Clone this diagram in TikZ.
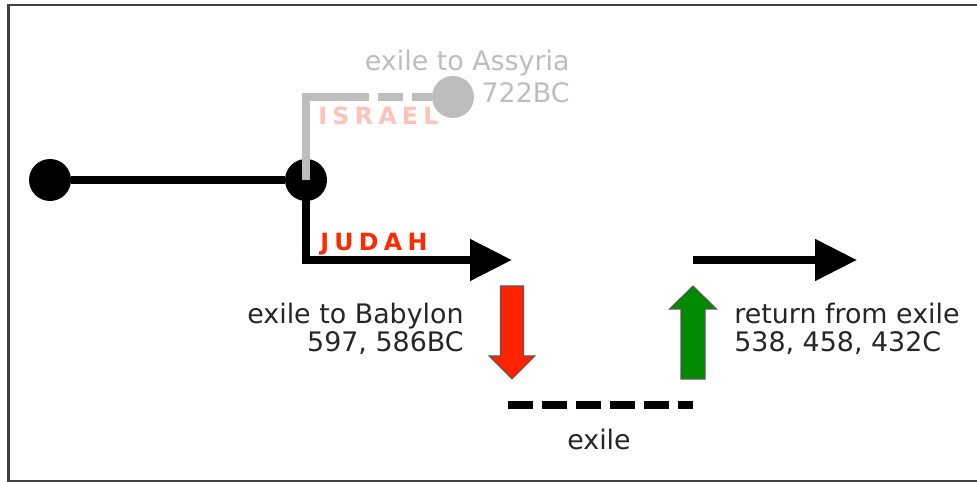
\documentclass[tikz,border=0pt]{standalone}
\usepackage{fontspec}
\setmainfont{DejaVu Sans}
\usetikzlibrary{arrows.meta}
\definecolor{faded}{HTML}{BDBDBD}
\definecolor{israelpink}{HTML}{FFC2B8}
\definecolor{judahred}{HTML}{FF2A00}
\definecolor{downred}{HTML}{FF2200}
\definecolor{upgreen}{HTML}{008A00}
\newcommand{\lsp}{\kern3pt}

\begin{document}
\begin{tikzpicture}[x=0.02cm,y=-0.02cm,
	dot/.style={circle,fill,inner sep=0pt,minimum size=0.84cm},
	track/.style={line width=4.5pt},
	bigtip/.style={-{Triangle[length=23.8pt,width=22.7pt]}},
	label/.style={font=\fontsize{15.3}{16.4}\selectfont,text=black!85,inner sep=0pt},
	kingdom/.style={font=\fontsize{13.5}{15}\selectfont\bfseries,inner sep=0pt,anchor=base west},
	block/.style={draw=black!65,line width=0.6pt,line join=miter}]
\useasboundingbox (0,0) rectangle (977,482);
\draw[black!75,line width=1.2pt] (977,5) -- (8.5,5) -- (8.5,481) -- (977,481);

\node[dot] (united) at (50,180) {};
\node[dot] (split) at (306,180) {};
\node[dot,faded] (assyria) at (453,97) {};
\coordinate (judah end) at (512,260);
\coordinate (return start) at (693,260);
\coordinate (return end) at (857,260);
\coordinate (exile start) at (508,405);
\coordinate (exile end) at (693,405);

\draw[track,faded,dash pattern=on 83.3pt off 5.1pt on 14.2pt off 5.1pt on 200pt]
	(split.center) |- (assyria);
\draw[track] (united) -- (split);
\draw[track,bigtip] (split.center) |- (judah end);
\draw[track,bigtip] (return start) -- (return end);
\draw[line width=5.1pt,dash pattern=on 14.2pt off 5.1pt] (exile start) -- (exile end);

% exile and return
\draw[block,fill=downred] (500.5,286) -- (523.5,286) -- (523.5,356) -- (535,356)
	-- (512,379) -- (489,356) -- (500.5,356) -- cycle;
\draw[block,fill=upgreen] (681,379) -- (705,379) -- (705,309) -- (716.5,309)
	-- (693,286) -- (669.5,309) -- (681,309) -- cycle;

\node[kingdom,israelpink] (israel) at (318,125) {I\lsp S\lsp R\lsp A\lsp E\lsp L};
\node[kingdom,judahred] (judah) at (320,251) {J\lsp U\lsp D\lsp A\lsp H};
\node[label,text=faded,align=right,anchor=base east] (assyria text) at (570,103)
	{exile to Assyria\\[2.2pt]722BC};
\node[label,align=right,anchor=base east] (babylon text) at (464,352)
	{exile to Babylon\\597, 586BC};
\node[label,align=left,anchor=base west] (return text) at (734,352)
	{return from exile\\538, 458, 432C};
\node[label,anchor=base] (exile text) at (599,450) {exile};
\end{tikzpicture}
\end{document}
